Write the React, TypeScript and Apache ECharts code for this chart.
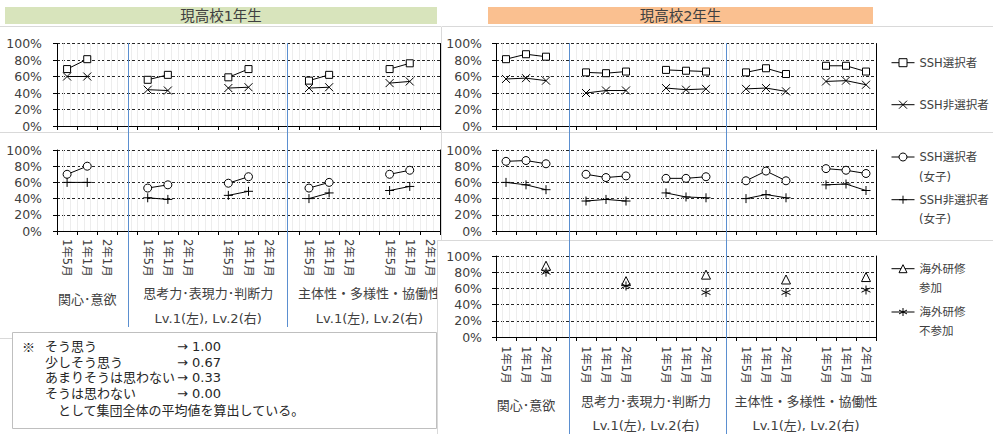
import React, { useEffect, useRef } from 'react';
import * as echarts from 'echarts';

// ---------- data ----------
const categories = [
  '1年5月', '1年1月', '2年1月', '',
  '1年5月', '1年1月', '2年1月', '',
  '1年5月', '1年1月', '2年1月', '',
  '1年5月', '1年1月', '2年1月', '',
  '1年5月', '1年1月', '2年1月',
];

// 現高校1年生
const y1SshAll = [0.69, 0.81, null, null, 0.56, 0.62, null, null, 0.59, 0.69, null, null, 0.55, 0.62, null, null, 0.69, 0.76, null];
const y1NonAll = [0.60, 0.60, null, null, 0.44, 0.43, null, null, 0.46, 0.47, null, null, 0.46, 0.47, null, null, 0.52, 0.54, null];
const y1SshGirls = [0.70, 0.80, null, null, 0.53, 0.57, null, null, 0.59, 0.67, null, null, 0.53, 0.60, null, null, 0.70, 0.75, null];
const y1NonGirls = [0.60, 0.60, null, null, 0.41, 0.39, null, null, 0.44, 0.49, null, null, 0.40, 0.47, null, null, 0.50, 0.55, null];

// 現高校2年生
const y2SshAll = [0.81, 0.87, 0.84, null, 0.65, 0.64, 0.66, null, 0.68, 0.67, 0.66, null, 0.65, 0.70, 0.63, null, 0.73, 0.73, 0.66];
const y2NonAll = [0.57, 0.58, 0.55, null, 0.40, 0.43, 0.43, null, 0.46, 0.44, 0.45, null, 0.45, 0.46, 0.42, null, 0.54, 0.55, 0.50];
const y2SshGirls = [0.86, 0.87, 0.83, null, 0.70, 0.66, 0.68, null, 0.65, 0.65, 0.67, null, 0.62, 0.74, 0.62, null, 0.77, 0.75, 0.71];
const y2NonGirls = [0.60, 0.57, 0.51, null, 0.37, 0.39, 0.37, null, 0.47, 0.42, 0.41, null, 0.40, 0.45, 0.41, null, 0.57, 0.58, 0.50];
const y2Abroad = [null, null, 0.88, null, null, null, 0.69, null, null, null, 0.77, null, null, null, 0.71, null, null, null, 0.74];
const y2NoAbroad = [null, null, 0.80, null, null, null, 0.63, null, null, null, 0.55, null, null, null, 0.55, null, null, null, 0.58];

const titles = ['現高校1年生', '現高校2年生'];
const sectionLabels = ['関心･意欲', '思考力･表現力･判断力', '主体性・多様性・協働性'];
const levelLabel = 'Lv.1(左), Lv.2(右)';
const noteMark = '※';
const noteLabels = ['そう思う', '少しそう思う', 'あまりそうは思わない', 'そうは思わない'];
const noteValues = ['→ 1.00', '→ 0.67', '→ 0.33', '→ 0.00'];
const noteTail = 'として集団全体の平均値を算出している。';

// ---------- style / layout ----------
const FONT = "'DejaVu Sans', 'Noto Sans CJK JP', sans-serif";
const CJK = "'Noto Sans CJK JP', sans-serif";
const TXT = '#404040';
const BORDER = '#d9d9d9';
const BLUE = '#5b8fd0';

const SYM_X = 'path://M0,0L10,10M10,0L0,10';
const SYM_PLUS = 'path://M5,0L5,10M0,5L10,5';
const SYM_AST = 'path://M5,0L5,10M0.8,2.6L9.2,7.4M0.8,7.4L9.2,2.6';

const panels = [
  { left: 57, top: 43.5, width: 383, height: 82.5, labels: false, yMargin: 15, xMargin: 8 },
  { left: 57, top: 150, width: 383, height: 81, labels: true, yMargin: 15, xMargin: 8 },
  { left: 496, top: 43.5, width: 380, height: 82.5, labels: false, yMargin: 14, xMargin: 9 },
  { left: 496, top: 150, width: 380, height: 81, labels: false, yMargin: 14, xMargin: 9 },
  { left: 496, top: 256, width: 380, height: 81, labels: true, yMargin: 14, xMargin: 9 },
];

const cx = (p: any, idx: number) => p.left + (idx + 0.5) * (p.width / categories.length);

function mk(name: string, data: any[], gi: number, symbol: string, size: number, fill: string) {
  return {
    type: 'line',
    name,
    data,
    xAxisIndex: gi * 2,
    yAxisIndex: gi * 2,
    symbol,
    symbolSize: size,
    showSymbol: true,
    showAllSymbol: true,
    connectNulls: false,
    lineStyle: { color: '#000', width: 1 },
    itemStyle: { color: fill, borderColor: '#000', borderWidth: 1 },
    emphasis: { disabled: true },
    z: 3,
  };
}

function hline(x1: number, x2: number, y: number, color: string, z = 1) {
  return { type: 'line', silent: true, z, shape: { x1, y1: y, x2, y2: y }, style: { stroke: color, lineWidth: 1 } };
}
function vline(x: number, y1: number, y2: number, color: string, z = 1) {
  return { type: 'line', silent: true, z, shape: { x1: x, y1, x2: x, y2 }, style: { stroke: color, lineWidth: 1 } };
}
function txt(text: string, x: number, y: number, size: number, align = 'center', z = 10, family = FONT, fill = TXT) {
  return { type: 'text', silent: true, z, x, y, style: { text, fontSize: size, fontFamily: family, fill, align, verticalAlign: 'middle' } };
}

function buildOption() {
  const grid = panels.map((p) => ({ left: p.left, top: p.top, width: p.width, height: p.height, containLabel: false }));
  const xAxis: any[] = [];
  const yAxis: any[] = [];
  panels.forEach((p, i) => {
    xAxis.push({
      type: 'category', gridIndex: i, data: categories, boundaryGap: true, position: 'bottom',
      axisLine: { show: true, onZero: false, lineStyle: { color: '#000', width: 1 } },
      axisTick: { show: true, interval: 0, length: 4, inside: false, lineStyle: { color: '#000' } },
      axisLabel: { show: p.labels, interval: 0, rotate: -90, margin: p.xMargin, fontSize: 11.5, fontFamily: FONT, color: TXT },
      splitLine: { show: false },
    });
    xAxis.push({
      type: 'value', gridIndex: i, position: 'top', min: 0, max: categories.length * 3, interval: 1,
      axisLine: { show: false }, axisTick: { show: false }, axisLabel: { show: false },
      splitLine: { show: true, lineStyle: { color: '#ededed', width: 1 } },
    });
    yAxis.push({
      type: 'value', gridIndex: i, min: 0, max: 1, interval: 0.2, position: 'left',
      axisLine: { show: true, lineStyle: { color: '#000' } },
      axisTick: { show: true, length: 4, lineStyle: { color: '#000' } },
      axisLabel: { formatter: (v: number) => Math.round(v * 100) + '%', fontSize: 12.5, fontFamily: FONT, color: TXT, margin: p.yMargin },
      splitLine: { show: true, lineStyle: { color: '#262626', type: [3, 2], width: 1 } },
    });
    yAxis.push({
      type: 'value', gridIndex: i, min: 0, max: 1, interval: 0.2, position: 'right',
      axisLine: { show: true, lineStyle: { color: '#000' } },
      axisTick: { show: false }, axisLabel: { show: false }, splitLine: { show: false },
    });
  });

  const series = [
    mk('SSH選択者', y1SshAll, 0, 'rect', 7, '#fff'),
    mk('SSH非選択者', y1NonAll, 0, SYM_X, 8, '#000'),
    mk('SSH選択者(女子)', y1SshGirls, 1, 'circle', 8, '#fff'),
    mk('SSH非選択者(女子)', y1NonGirls, 1, SYM_PLUS, 9, '#000'),
    mk('SSH選択者', y2SshAll, 2, 'rect', 7, '#fff'),
    mk('SSH非選択者', y2NonAll, 2, SYM_X, 8, '#000'),
    mk('SSH選択者(女子)', y2SshGirls, 3, 'circle', 8, '#fff'),
    mk('SSH非選択者(女子)', y2NonGirls, 3, SYM_PLUS, 9, '#000'),
    mk('海外研修参加', y2Abroad, 4, 'triangle', 9, '#fff'),
    mk('海外研修不参加', y2NoAbroad, 4, SYM_AST, 9, '#000'),
  ];

  const legendCommon = {
    orient: 'vertical', left: 891, itemWidth: 23, itemHeight: 10, padding: 0, selectedMode: false,
    textStyle: { fontSize: 11.5, fontFamily: FONT, color: TXT, lineHeight: 14 },
    itemStyle: { color: '#fff', borderColor: '#000', borderWidth: 1 },
    lineStyle: { color: '#000', width: 1 },
  };
  const legend = [
    { ...legendCommon, top: 55.7, itemGap: 28, data: ['SSH選択者', 'SSH非選択者'] },
    { ...legendCommon, top: 150, itemGap: 28.7, data: ['SSH選択者(女子)', 'SSH非選択者(女子)'], formatter: (n: string) => n.replace('(女子)', '') },
    { ...legendCommon, top: 261.7, itemGap: 29.3, data: ['海外研修参加', '海外研修不参加'], formatter: (n: string) => n.slice(0, 4) },
  ];

  const L2 = panels[1];
  const R3 = panels[4];
  const graphic: any[] = [
    // chart area borders
    hline(0, 441, 26.5, BORDER), hline(442, 993, 26.5, BORDER),
    hline(0, 441, 132.5, BORDER), hline(442, 993, 132.5, BORDER),
    hline(0, 437, 338.5, BORDER),
    vline(441.5, 26.5, 240, BORDER),
    // title bars
    { type: 'rect', silent: true, z: 2, shape: { x: 5, y: 7, width: 432, height: 17 }, style: { fill: '#d8e4bc' } },
    txt(titles[0], 221, 15.5, 14.5, 'center', 3),
    { type: 'rect', silent: true, z: 2, shape: { x: 488, y: 7, width: 385, height: 17 }, style: { fill: '#fac090' } },
    txt(titles[1], 680.5, 15.5, 14.5, 'center', 3),
    // group labels (left)
    txt(sectionLabels[0], cx(L2, 1), 299, 13),
    txt(sectionLabels[1], cx(L2, 7), 293, 13),
    txt(sectionLabels[2], cx(L2, 15), 293, 13),
    txt(levelLabel, cx(L2, 7), 318.5, 13),
    txt(levelLabel, cx(L2, 15), 318.5, 13),
    // group labels (right)
    txt(sectionLabels[0], cx(R3, 1), 405, 13, 'center', 60),
    txt(sectionLabels[1], cx(R3, 7), 401.5, 13, 'center', 60),
    txt(sectionLabels[2], cx(R3, 15), 401.5, 13, 'center', 60),
    txt(levelLabel, cx(R3, 7), 425, 13, 'center', 60),
    txt(levelLabel, cx(R3, 15), 425, 13, 'center', 60),
    // legend second lines
    txt('(女子)', 919, 176.7, 11.5, 'left'),
    txt('(女子)', 919, 219.3, 11.5, 'left'),
    txt('参加', 919, 288.3, 11.5, 'left'),
    txt('不参加', 919, 330.7, 11.5, 'left'),
    // mask where the lower right chart overlaps the left one
    { type: 'rect', silent: true, z: 50, shape: { x: 437, y: 240, width: 6, height: 194 }, style: { fill: '#fff' } },
    vline(437.5, 240, 434, BORDER, 51),
    hline(437, 993, 240.5, BORDER, 51),
    // blue separators
    vline(Math.round(cx(L2, 3)) + 0.5, 43, 327, BLUE, 52),
    vline(Math.round(cx(L2, 10.9)) + 0.5, 43, 327, BLUE, 52),
    vline(Math.round(cx(R3, 3.15)) + 0.5, 43, 434, BLUE, 52),
    vline(Math.round(cx(R3, 11)) + 0.5, 43, 434, BLUE, 52),
    // note box
    { type: 'rect', silent: true, z: 20, shape: { x: 12.5, y: 332.5, width: 424, height: 96 }, style: { fill: '#fff', stroke: '#bfbfbf', lineWidth: 1 } },
    txt(noteMark, 22, 346.7, 13, 'left', 21, CJK, '#262626'),
  ];
  const rowsY = [346.7, 362.3, 377.7, 393.3];
  noteLabels.forEach((l, i) => {
    graphic.push(txt(l, 45, rowsY[i], 13, 'left', 21, FONT, '#262626'));
    graphic.push(txt(noteValues[i], 177, rowsY[i], 13, 'left', 21, FONT, '#262626'));
  });
  graphic.push(txt(noteTail, 58, 410, 13, 'left', 21, FONT, '#262626'));

  return {
    animation: false,
    backgroundColor: '#fff',
    grid, xAxis, yAxis, series, legend, graphic,
    tooltip: { show: false },
  };
}

export default function App() {
  const ref = useRef<HTMLDivElement>(null);
  useEffect(() => {
    document.body.style.margin = '0';
    const chart = echarts.init(ref.current!, null, { renderer: 'svg' });
    chart.setOption(buildOption() as any);
    return () => chart.dispose();
  }, []);
  return <div ref={ref} style={{ width: 1000, height: 434, background: '#fff' }} />;
}
